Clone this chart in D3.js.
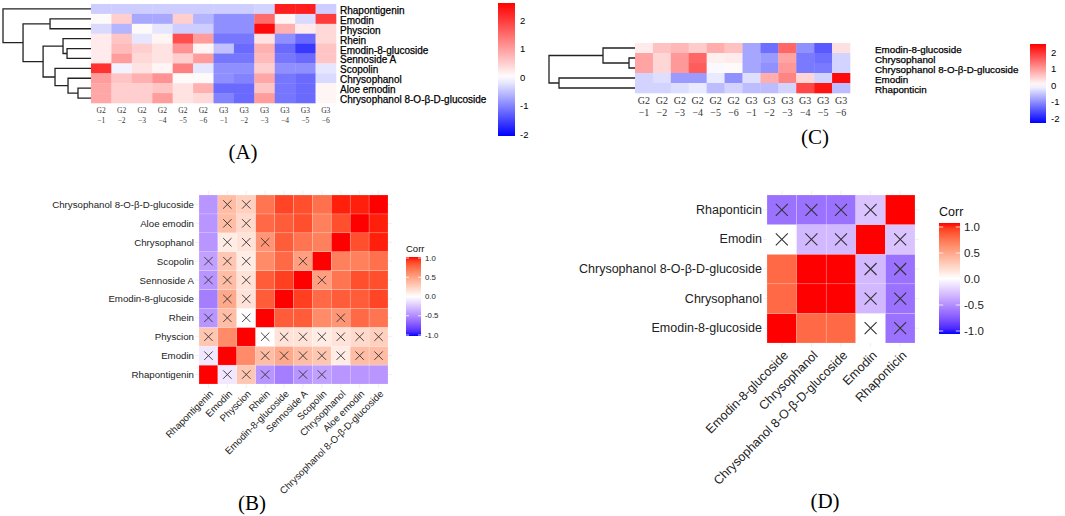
<!DOCTYPE html>
<html>
<head>
<meta charset="utf-8">
<script src="https://cdn.jsdelivr.net/npm/d3@7"></script>
<style>
  body { margin: 0; background: #fff; }
  text { font-family: "Liberation Sans", Arial, sans-serif; }
  .serif { font-family: "Liberation Serif", "Times New Roman", serif; }
</style>
</head>
<body>
<div id="fig"></div>
<script>
// ---- data ----
var samples = ["G2-1","G2-2","G2-3","G2-4","G2-5","G2-6","G3-1","G3-2","G3-3","G3-4","G3-5","G3-6"];

var rowsA = ["Rhapontigenin","Emodin","Physcion","Rhein","Emodin-8-glucoside","Sennoside A",
  "Scopolin","Chrysophanol","Aloe emodin","Chrysophanol 8-O-β-D-glucoside"];
var valuesA = [
  [-0.4,-0.4,-0.4,-0.4,-0.4,-0.4,-0.4,-0.4,-0.35,2.3,2.3,-0.4],
  [0.05,0.5,-0.7,-0.7,0.5,-0.6,-0.9,-0.9,1.5,0.1,-0.3,2.0],
  [-0.3,-0.6,0.05,-0.2,-0.4,-0.4,-0.9,-0.9,2.5,0.8,0.2,0.4],
  [0.2,0.6,-0.2,0.1,1.8,1.0,-1.1,-1.1,0.3,-0.9,-1.2,0.4],
  [0.2,0.7,0.5,0.3,1.1,0.1,-0.5,-1.2,0.8,-1.2,-1.6,0.6],
  [0.2,1.0,0.4,0.3,0.5,1.0,-1.1,-1.1,0.7,-1.1,-1.2,0.6],
  [2.1,-0.1,0.3,0.1,1.3,-0.2,-0.9,-0.9,0.5,-0.9,-0.9,-0.2],
  [1.0,0.6,0.8,1.1,0.05,0.05,-0.9,-1.0,0.9,-1.1,-1.2,-0.3],
  [0.9,0.5,0.5,0.6,0.3,0.8,-1.2,-1.2,0.6,-1.1,-1.2,0.1],
  [0.9,0.5,0.5,1.0,0.3,0.4,-1.0,-1.2,1.0,-1.1,-1.2,0.1]
];
// dendrogram: [height, left, right], leaves are row indices
var treeA = [9.0, 0, [6.95, [4.19, 1, 2], [4.9, [2.86, 3, [2.45, 4, 5]], [3.68, 6, [2.35, 7, [1.33, 8, 9]]]]]];
var ticksA = [2, 1, 0, -1, -2];

var rowsC = ["Emodin-8-glucoside","Chrysophanol","Chrysophanol 8-O-β-D-glucoside","Emodin","Rhaponticin"];
var valuesC = [
  [0.2,0.6,0.7,0.5,0.8,0.6,-0.8,-1.3,1.5,-1.0,-1.5,0.3],
  [0.9,0.4,1.0,1.5,0.15,0.2,-0.8,-0.9,0.9,-1.2,-1.3,-0.4],
  [0.9,0.4,1.0,1.6,-0.05,0.05,-0.8,-1.0,1.0,-1.2,-1.2,-0.4],
  [-0.4,-0.3,-0.9,-0.9,-0.2,-1.0,-0.3,0.8,1.2,0.4,-0.4,2.4],
  [-0.4,-0.4,-0.3,-0.2,-0.6,-0.4,-0.6,-0.6,-0.4,1.8,2.3,-0.6]
];
var treeC = [8.6, [3.2, 0, [0.6, 1, 2]], [7.6, 3, 4]];
var ticksC = [2, 1, 0, -1, -2];

var varsB = ["Rhapontigenin","Emodin","Physcion","Rhein","Emodin-8-glucoside","Sennoside A",
  "Scopolin","Chrysophanol","Aloe emodin","Chrysophanol 8-O-β-D-glucoside"];
var corrB = [
  [1,-0.1,0.3,-0.45,-0.55,-0.45,-0.4,-0.45,-0.45,-0.45],
  [-0.1,1,0.6,0.35,0.45,0.35,0.3,0.1,0.35,0.35],
  [0.3,0.6,1,0.0,0.15,0.15,0.1,0.15,0.2,0.25],
  [-0.45,0.35,0.0,1,0.8,0.8,0.6,0.55,0.75,0.7],
  [-0.55,0.45,0.15,0.8,1,0.9,0.75,0.8,0.8,0.88],
  [-0.45,0.35,0.15,0.8,0.9,1,0.5,0.7,0.85,0.85],
  [-0.4,0.3,0.1,0.6,0.75,0.5,1,0.65,0.65,0.72],
  [-0.45,0.1,0.15,0.55,0.8,0.7,0.65,1,0.85,0.97],
  [-0.45,0.35,0.2,0.75,0.8,0.85,0.65,0.85,1,0.97],
  [-0.45,0.35,0.25,0.7,0.88,0.85,0.72,0.97,0.97,1]
];
// "x" = not significant
var insigB = [".xxx.xx...", "x..xxxxxxx", "x..xxxxxxx", "xxx....x..", ".xx.......",
  "xxx...x...", "xxx..x....", ".xxx......", ".xx.......", ".xx......."];

var varsD = ["Emodin-8-glucoside","Chrysophanol","Chrysophanol 8-O-β-D-glucoside","Emodin","Rhaponticin"];
var corrD = [
  [1,0.75,0.75,0.0,-0.6],
  [0.75,1,1,-0.3,-0.6],
  [0.75,1,1,-0.3,-0.6],
  [0.0,-0.3,-0.3,1,-0.25],
  [-0.6,-0.6,-0.6,-0.25,1]
];
var insigD = ["...xx", "...xx", "...xx", "xxx.x", "xxxx."];
var ticksCorr = ["1.0", "0.5", "0.0", "-0.5", "-1.0"];

// ---- svg ----
var W = 1065, H = 516;
var svg = d3.select("#fig").append("svg").attr("width", W).attr("height", H);
var defs = svg.append("defs");

var heatColA = d3.scaleLinear().domain([-2.05, 0, 2.6]).range(["#0000ff", "#ffffff", "#ff0000"]);
var heatColC = d3.scaleLinear().domain([-2.3, 0, 2.5]).range(["#0000ff", "#ffffff", "#ff0000"]);
var corrCol = d3.scaleLinear().domain([-1, 0, 1]).range(["#0000ff", "#ffffff", "#ff0000"])
  .interpolate(d3.interpolateLab);

function gradient(id, color, dom) {
  var lg = defs.append("linearGradient").attr("id", id)
    .attr("x1", 0).attr("y1", 1).attr("x2", 0).attr("y2", 0);
  d3.range(0, 1.0001, 0.05).forEach(function(t) {
    lg.append("stop").attr("offset", t).attr("stop-color", color(dom[0] + t * (dom[1] - dom[0])));
  });
}

function layoutTree(node, yOf) {
  if (typeof node === "number") return { h: 0, y: yOf(node) };
  var a = layoutTree(node[1], yOf), b = layoutTree(node[2], yOf);
  return { h: node[0], y: (a.y + b.y) / 2, kids: [a, b] };
}
function drawTree(g, t, xs) {
  if (!t.kids) return;
  var a = t.kids[0], b = t.kids[1];
  g.append("path")
    .attr("d", "M" + xs(a.h) + "," + a.y + "H" + xs(t.h) + "V" + b.y + "H" + xs(b.h))
    .attr("fill", "none").attr("stroke", "#222").attr("stroke-width", 1.3);
  drawTree(g, a, xs); drawTree(g, b, xs);
}

function heatPanel(o) {
  var g = svg.append("g");
  var x = d3.scaleBand().domain(d3.range(samples.length)).range([o.x0, o.x1]);
  var y = d3.scaleBand().domain(d3.range(o.rows.length)).range([o.y0, o.y1]);
  o.values.forEach(function(row, i) {
    g.selectAll(null).data(row).enter().append("rect")
      .attr("x", function(d, j) { return x(j); })
      .attr("y", y(i))
      .attr("width", x.bandwidth() + 0.3).attr("height", y.bandwidth() + 0.3)
      .attr("fill", function(d) { return o.color(d); });
  });
  g.selectAll(null).data(o.rows).enter().append("text")
    .attr("x", o.labelX).attr("y", function(d, i) { return y(i) + y.bandwidth() / 2 + o.labelDy; })
    .attr("dominant-baseline", "central")
    .attr("font-size", o.fs).attr("fill", "#000")
    .attr("stroke", "#000").attr("stroke-width", 0.25).text(function(d) { return d; });
  // column labels on two lines
  var cl = g.selectAll(null).data(samples).enter().append("text")
    .attr("class", "serif").attr("text-anchor", "middle")
    .attr("font-size", o.colFs).attr("fill", "#333");
  cl.append("tspan").attr("x", function(d, j) { return x(j) + x.bandwidth() / 2; })
    .attr("y", o.colY1).text(function(d) { return d.split("-")[0]; });
  cl.append("tspan").attr("x", function(d, j) { return x(j) + x.bandwidth() / 2; })
    .attr("y", o.colY2).text(function(d) { return "−" + d.split("-")[1]; });
  // dendrogram
  var xs = d3.scaleLinear().domain([0, o.tree[0]]).range([o.x0, o.treeX]);
  var t = layoutTree(o.tree, function(i) { return y(i) + y.bandwidth() / 2; });
  drawTree(g, t, xs);
  // legend
  var dom = o.color.domain();
  gradient(o.id, o.color, [dom[0], dom[dom.length - 1]]);
  var ly = d3.scaleLinear().domain([dom[0], dom[dom.length - 1]]).range([o.legY1, o.legY0]);
  g.append("rect").attr("x", o.legX).attr("y", o.legY0).attr("width", o.legW)
    .attr("height", o.legY1 - o.legY0).attr("fill", "url(#" + o.id + ")");
  g.selectAll(null).data(o.ticks).enter().append("text")
    .attr("x", o.legX + o.legW + 5).attr("y", function(d) { return ly(d); })
    .attr("dominant-baseline", "central").attr("font-size", o.legFs).attr("fill", "#000")
    .text(function(d) { return d; });
}

heatPanel({ id: "gA", x0: 91, x1: 336, y0: 4, y1: 103, rows: rowsA, values: valuesA, color: heatColA,
  labelX: 340, labelDy: 1.5, fs: 10, colFs: 7.5, colY1: 113, colY2: 123, tree: treeA, treeX: 3,
  legX: 498, legW: 17, legY0: 3, legY1: 136, ticks: ticksA, legFs: 9.5 });

heatPanel({ id: "gC", x0: 635, x1: 850, y0: 43, y1: 93, rows: rowsC, values: valuesC, color: heatColC,
  labelX: 875, labelDy: 1.5, fs: 9.8, colFs: 10, colY1: 104, colY2: 116, tree: treeC, treeX: 549,
  legX: 1030, legW: 16, legY0: 44, legY1: 123, ticks: ticksC, legFs: 9.5 });

function corrPanel(o) {
  var g = svg.append("g");
  var n = o.vars.length;
  var x = d3.scaleBand().domain(d3.range(n)).range([o.x0, o.x1]);
  var y = d3.scaleBand().domain(d3.range(n)).range([o.y1, o.y0]);
  // faint grid
  g.selectAll(null).data(d3.range(n)).enter().append("line")
    .attr("x1", function(d) { return x(d) + x.bandwidth() / 2; })
    .attr("x2", function(d) { return x(d) + x.bandwidth() / 2; })
    .attr("y1", o.y0 - 4).attr("y2", o.y1 + 4).attr("stroke", "#e4e4e4").attr("stroke-width", 0.6);
  g.selectAll(null).data(d3.range(n)).enter().append("line")
    .attr("y1", function(d) { return y(d) + y.bandwidth() / 2; })
    .attr("y2", function(d) { return y(d) + y.bandwidth() / 2; })
    .attr("x1", o.x0 - 4).attr("x2", o.x1 + 4).attr("stroke", "#e4e4e4").attr("stroke-width", 0.6);
  o.corr.forEach(function(row, i) {
    row.forEach(function(v, j) {
      g.append("rect").attr("x", x(j)).attr("y", y(i))
        .attr("width", x.bandwidth()).attr("height", y.bandwidth())
        .attr("fill", corrCol(v)).attr("stroke", "rgba(255,255,255,0.35)").attr("stroke-width", 0.5);
      if (o.insig[i][j] === "x") {
        var cx = x(j) + x.bandwidth() / 2, cy = y(i) + y.bandwidth() / 2, r = o.xr;
        g.append("path").attr("d", "M" + (cx - r) + "," + (cy - r) + "L" + (cx + r) + "," + (cy + r) +
          "M" + (cx - r) + "," + (cy + r) + "L" + (cx + r) + "," + (cy - r))
          .attr("stroke", "#333").attr("stroke-width", o.xw);
      }
    });
  });
  g.selectAll(null).data(o.vars).enter().append("text")
    .attr("x", o.x0 - 5).attr("y", function(d, i) { return y(i) + y.bandwidth() / 2; })
    .attr("text-anchor", "end").attr("dominant-baseline", "central")
    .attr("font-size", o.fs).attr("fill", "#222").text(function(d) { return d; });
  g.selectAll(null).data(o.vars).enter().append("text")
    .attr("transform", function(d, i) {
      return "translate(" + (x(i) + x.bandwidth() / 2 + o.rotDx) + "," + (o.y1 + o.rotDy) + ") rotate(-45)";
    })
    .attr("text-anchor", "end").attr("dy", "0.35em")
    .attr("font-size", o.fs).attr("fill", "#222").text(function(d) { return d; });
  // legend
  gradient(o.id, corrCol, [-1, 1]);
  var ly = d3.scaleLinear().domain([-1, 1]).range([o.tickY1, o.tickY0]);
  g.append("text").attr("x", o.legX).attr("y", o.titleY).attr("font-size", o.titleFs)
    .attr("fill", "#111").text("Corr");
  g.append("rect").attr("x", o.legX).attr("y", o.legY0).attr("width", o.legW)
    .attr("height", o.legY1 - o.legY0).attr("fill", "url(#" + o.id + ")");
  ticksCorr.forEach(function(t) {
    g.append("line").attr("x1", o.legX).attr("x2", o.legX + o.legW * 0.2)
      .attr("y1", ly(+t)).attr("y2", ly(+t)).attr("stroke", "#fff").attr("stroke-width", 0.8);
    g.append("line").attr("x1", o.legX + o.legW * 0.8).attr("x2", o.legX + o.legW)
      .attr("y1", ly(+t)).attr("y2", ly(+t)).attr("stroke", "#fff").attr("stroke-width", 0.8);
  });
  g.selectAll(null).data(ticksCorr).enter().append("text")
    .attr("x", o.legX + o.legW + 4).attr("y", function(d) { return ly(+d); })
    .attr("dominant-baseline", "central").attr("font-size", o.legFs).attr("fill", "#222")
    .text(function(d) { return d; });
}

corrPanel({ id: "gB", vars: varsB, corr: corrB, insig: insigB, x0: 199, x1: 388, y0: 195, y1: 384,
  fs: 9.7, rotDx: 3, rotDy: 8, xr: 4.2, xw: 0.9,
  legX: 406, legW: 15, legY0: 257, legY1: 336, tickY0: 258, tickY1: 335, titleY: 252, titleFs: 9.5, legFs: 7.8 });

corrPanel({ id: "gD", vars: varsD, corr: corrD, insig: insigD, x0: 767, x1: 915, y0: 195, y1: 343,
  fs: 12.5, rotDx: 4, rotDy: 10, xr: 6, xw: 1.1,
  legX: 939, legW: 21, legY0: 223, legY1: 334, tickY0: 227, tickY1: 331, titleY: 216, titleFs: 12.5, legFs: 11.5 });

// panel tags
var tags = [["(A)", 243, 152], ["(B)", 252, 503], ["(C)", 815, 137], ["(D)", 825, 501]];
svg.selectAll(null).data(tags).enter().append("text")
  .attr("class", "serif").attr("x", function(d) { return d[1]; }).attr("y", function(d) { return d[2]; })
  .attr("text-anchor", "middle").attr("dominant-baseline", "central")
  .attr("font-size", 21).attr("fill", "#000").text(function(d) { return d[0]; });
</script>
</body>
</html>
